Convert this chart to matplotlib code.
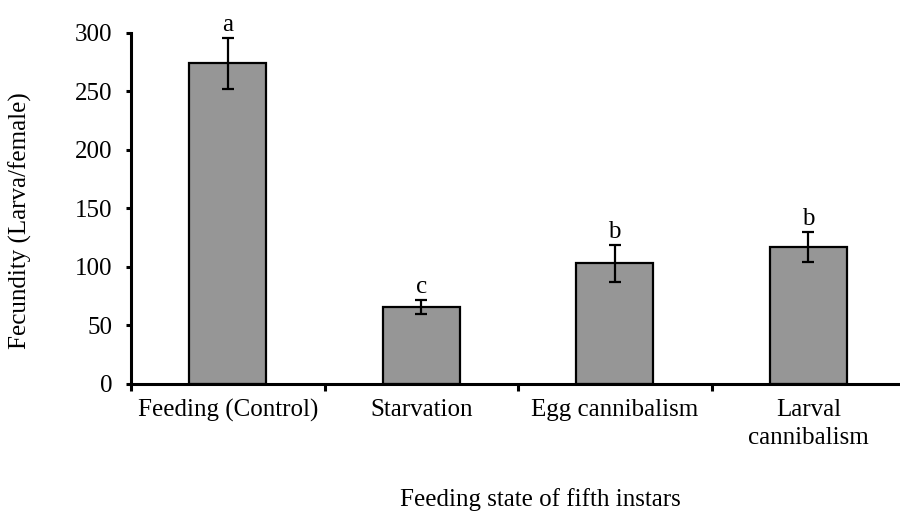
import matplotlib.pyplot as plt
import numpy as np

plt.rcParams['font.family'] = ['Liberation Serif', 'DejaVu Serif']

categories = ["Feeding (Control)", "Starvation", "Egg cannibalism", "Larval\ncannibalism"]
fecundity = [274, 66, 103, 117]
errors = [22, 6, 16, 13]
letters = ["a", "c", "b", "b"]

fig = plt.figure(figsize=(9, 5.15), dpi=100)
ax = fig.add_axes([0.1456, 0.2544, 0.86, 0.6816])

x = np.arange(len(categories))
ax.bar(x, fecundity, width=0.4, color="#969696", edgecolor="black", linewidth=1.6, zorder=2)
ax.errorbar(x, fecundity, yerr=errors, fmt="none", ecolor="black", elinewidth=1.6,
            capsize=4.5, capthick=1.6, zorder=3)

for xi, v, e, l in zip(x, fecundity, errors, letters):
    ax.annotate(l, (xi, v + e), xytext=(0, 1.5), textcoords="offset points",
                ha="center", va="bottom", fontsize=18)

ax.set_xlim(-0.5, len(categories) - 0.5)
ax.set_ylim(0, 300)
ax.set_yticks(np.arange(0, 301, 50))

# boundary ticks as major ticks, labels at category centres as minor ticks
ax.set_xticks(np.arange(-0.5, len(categories), 1.0))
ax.set_xticklabels([])
ax.set_xticks(x, minor=True)
ax.set_xticklabels(categories, minor=True, fontsize=18, linespacing=1.35)
ax.tick_params(axis="x", which="major", direction="out", length=5, width=2.2)
ax.tick_params(axis="x", which="minor", length=0, pad=11)
ax.tick_params(axis="y", direction="out", length=3.5, width=2.2, labelsize=18, pad=10)

for s in ["top", "right"]:
    ax.spines[s].set_visible(False)
for s in ["left", "bottom"]:
    ax.spines[s].set_linewidth(2.2)

fig.text(0.022, 0.571, "Fecundity (Larva/female)", rotation=90, ha="center", va="center", fontsize=18)
fig.text(0.6, 0.018, "Feeding state of fifth instars", ha="center", va="baseline", fontsize=18)

fig.savefig("out.png", dpi=100)
